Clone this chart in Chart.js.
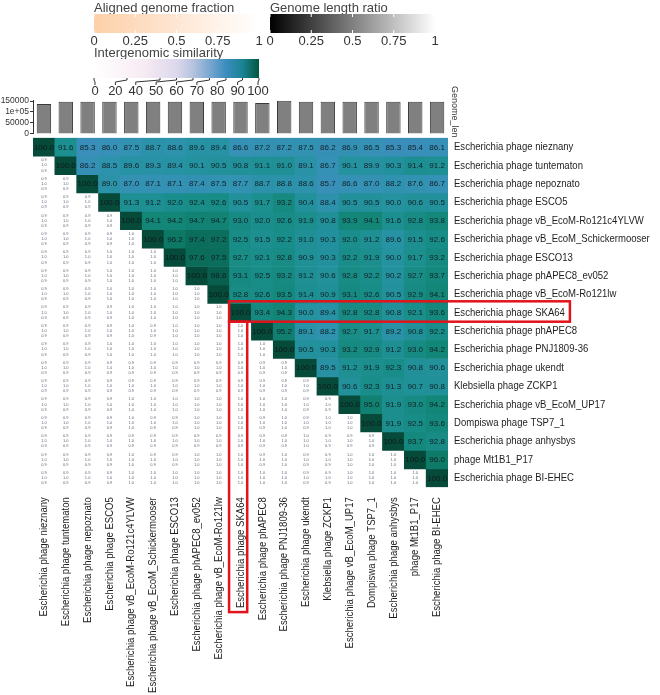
<!DOCTYPE html>
<html>
<head>
<meta charset="utf-8">
<script src="https://cdn.jsdelivr.net/npm/chart.js@4.4.1/dist/chart.umd.min.js"></script>
<style>
  html, body { margin: 0; padding: 0; background: #fff; }
  #wrap { position: relative; width: 660px; height: 695px; overflow: hidden; }
  #heat, #lenChart, #legend { position: absolute; left: 0; top: 0; }
</style>
</head>
<body>
<div id="wrap">
  <canvas id="heat" width="660" height="695"></canvas>
  <canvas id="lenChart" width="660" height="140"></canvas>
  <svg id="legend" width="660" height="140" font-family="'Liberation Sans', Arial, sans-serif"></svg>
</div>
<script>
const phages = [
    "Escherichia phage nieznany", "Escherichia phage tuntematon", "Escherichia phage nepoznato",
    "Escherichia phage ESCO5", "Escherichia phage vB_EcoM-Ro121c4YLVW", "Escherichia phage vB_EcoM_Schickermooser",
    "Escherichia phage ESCO13", "Escherichia phage phAPEC8_ev052", "Escherichia phage vB_EcoM-Ro121lw",
    "Escherichia phage SKA64", "Escherichia phage phAPEC8", "Escherichia phage PNJ1809-36",
    "Escherichia phage ukendt", "Klebsiella phage ZCKP1", "Escherichia phage vB_EcoM_UP17",
    "Dompiswa phage TSP7_1", "Escherichia phage anhysbys", "phage Mt1B1_P17", "Escherichia phage BI-EHEC"
];
const highlighted = "Escherichia phage SKA64";

// genome length (bp)
const genomeLen = [136500, 147000, 147000, 147000, 147000, 147000, 147000, 147000, 147000, 147000,
                   141000, 151500, 147000, 147000, 147000, 147000, 147000, 147000, 147000];
const lenTicks = [0, 50000, 100000, 150000];
const lenTickLabels = ["0", "50000", "1e+05", "150000"];

// intergenomic similarity, upper triangle, each row starts at the diagonal
const simRows = [
    [100.0, 91.6, 85.3, 86.0, 87.5, 88.7, 88.6, 89.6, 89.4, 86.6, 87.2, 87.2, 87.5, 86.2, 86.9, 86.5, 85.3, 85.4, 86.1],
    [100.0, 86.2, 88.5, 89.6, 89.3, 89.4, 90.1, 90.5, 90.8, 91.1, 91.0, 89.1, 86.7, 90.1, 89.9, 90.3, 91.4, 91.2],
    [100.0, 89.0, 87.0, 87.1, 87.1, 87.4, 87.5, 87.7, 88.7, 88.8, 88.6, 85.7, 86.6, 87.0, 88.2, 87.6, 86.7],
    [100.0, 91.3, 91.2, 92.0, 92.4, 92.6, 90.5, 91.7, 93.2, 90.4, 88.4, 90.5, 90.5, 90.0, 90.6, 90.5],
    [100.0, 94.1, 94.2, 94.7, 94.7, 93.0, 92.0, 92.6, 91.9, 90.8, 93.9, 94.1, 91.6, 92.8, 93.8],
    [100.0, 96.2, 97.4, 97.2, 92.5, 91.5, 92.2, 91.0, 90.3, 92.0, 91.2, 89.6, 91.5, 92.6],
    [100.0, 97.6, 97.5, 92.7, 92.1, 92.8, 90.9, 90.3, 92.2, 91.9, 90.0, 91.7, 93.2],
    [100.0, 98.6, 93.1, 92.5, 93.2, 91.2, 90.6, 92.8, 92.2, 90.2, 92.7, 93.7],
    [100.0, 92.8, 92.6, 93.5, 91.4, 90.9, 93.1, 92.6, 90.5, 92.9, 94.1],
    [100.0, 93.4, 94.3, 90.0, 89.4, 92.8, 92.8, 90.8, 92.1, 93.6],
    [100.0, 95.2, 89.1, 88.2, 92.7, 91.7, 89.2, 90.8, 92.2],
    [100.0, 90.5, 90.3, 93.2, 92.9, 91.2, 93.0, 94.2],
    [100.0, 89.5, 91.2, 91.9, 92.3, 90.8, 90.6],
    [100.0, 90.6, 92.3, 91.3, 90.7, 90.8],
    [100.0, 95.0, 91.9, 93.0, 94.2],
    [100.0, 91.9, 92.5, 93.6],
    [100.0, 93.7, 92.8],
    [100.0, 96.0],
    [100.0]
];

// lower triangle, aligned genome fraction per cell (9 = 0.9, 1 = 1.0), rows 2..19
const lowerFrac = [
    "9", "99", "999", "9999", "99991", "999111", "9991111", "99911111", "999911111",
    "9999191111", "99911111111", "999999999999", "9999999999999", "99991111111199",
    "999919911191911", "9999999999991999", "99991991119199111", "999911111111991111"
];
const lenRatioText = "1.0";

const afTicks = [0, 0.25, 0.5, 0.75, 1];
const afTickLabels = ["0", "0.25", "0.5", "0.75", "1"];
const simTicks = [0, 20, 40, 50, 60, 70, 80, 90, 100];

const labelFont = "'Liberation Sans', Arial, sans-serif";
const labelSize = 11.5;
const labelSqueeze = 0.83;
const numFont = "'Liberation Sans', Arial, sans-serif";

const simStops = [
    [84, [62, 142, 190]], [88, [48, 146, 176]], [90, [37, 146, 160]], [92, [26, 142, 140]],
    [94, [19, 135, 121]], [96, [14, 122, 104]], [98, [10, 104, 87]], [100, [6, 74, 58]]
];

function simColor(v) {
    if (v <= simStops[0][0]) return `rgb(${simStops[0][1].join(",")})`;
    for (let i = 1; i < simStops.length; i++) {
        const [v1, c1] = simStops[i];
        const [v0, c0] = simStops[i - 1];
        if (v <= v1) {
            const t = (v - v0) / (v1 - v0);
            const c = c0.map((a, k) => Math.round(a + (c1[k] - a) * t));
            return `rgb(${c.join(",")})`;
        }
    }
    return `rgb(${simStops[simStops.length - 1][1].join(",")})`;
}

function simAt(r, c) {
    return simRows[r][c - r];
}

function cellColor(r, c) {
    if (c < r) return "#ffffff";
    return simColor(simAt(r, c));
}

const cellText = {
    id: "cellText",
    afterDatasetsDraw(chart) {
        const ctx = chart.ctx;
        ctx.save();
        ctx.textAlign = "center";
        ctx.textBaseline = "middle";
        chart.data.datasets.forEach((ds, r) => {
            const meta = chart.getDatasetMeta(r);
            meta.data.forEach((bar, c) => {
                const p = bar.getProps(["x", "y", "base"], true);
                const cy = (p.y + p.base) / 2;
                const h = Math.abs(p.base - p.y);
                if (c >= r) {
                    ctx.font = `8px ${numFont}`;
                    ctx.fillStyle = "rgba(15,20,25,0.9)";
                    ctx.fillText(simAt(r, c).toFixed(1), p.x, cy + 0.5);
                } else {
                    const code = lowerFrac[r - 1][c];
                    const f = code === "1" ? "1.0" : "0.9";
                    ctx.font = `4px ${numFont}`;
                    ctx.fillStyle = "rgba(70,75,95,0.85)";
                    ctx.fillText(f, p.x, cy - h * 0.28);
                    ctx.fillText(lenRatioText, p.x, cy);
                    ctx.fillText(f, p.x, cy + h * 0.28);
                }
            });
        });
        ctx.restore();
    }
};

// row / column names, drawn along the scales with a narrow (condensed) face
const axisLabels = {
    id: "axisLabels",
    afterDraw(chart) {
        const ctx = chart.ctx;
        const xs = chart.scales.x, ys = chart.scales.y;
        ctx.save();
        ctx.font = `${labelSize}px ${labelFont}`;
        ctx.fillStyle = "#1e1e1e";
        ctx.textBaseline = "middle";
        phages.forEach((name, i) => {
            ctx.save();
            ctx.translate(ys.left + 6, ys.getPixelForValue(i + 0.5));
            ctx.scale(labelSqueeze, 1);
            ctx.textAlign = "left";
            ctx.fillText(name, 0, 0);
            ctx.restore();

            ctx.save();
            ctx.translate(xs.getPixelForValue(i), xs.top + 10);
            ctx.rotate(-Math.PI / 2);
            ctx.scale(labelSqueeze, 1);
            ctx.textAlign = "right";
            ctx.fillText(name, 0, 0);
            ctx.restore();
        });
        ctx.restore();
    }
};

const redBoxes = {
    id: "redBoxes",
    afterDraw(chart) {
        const ctx = chart.ctx;
        const xs = chart.scales.x, ys = chart.scales.y;
        const k = phages.indexOf(highlighted);
        const colW = xs.width / phages.length;
        const left = xs.getPixelForValue(k) - colW / 2 - 0.5;
        const right = left + colW * 0.83;
        const top = ys.getPixelForValue(k) - 2;
        const bottom = ys.getPixelForValue(k + 1);
        ctx.save();
        ctx.font = `${labelSize}px ${labelFont}`;
        const w = ctx.measureText(highlighted).width * labelSqueeze;
        ctx.strokeStyle = "#e3131b";
        ctx.lineWidth = 2.5;
        ctx.strokeRect(left, top, ys.left + 6 + w + 5 - left, bottom - top);
        ctx.strokeRect(left, bottom, right - left, xs.top + 10 + w + 4 - bottom);
        ctx.restore();
    }
};

new Chart(document.getElementById("heat"), {
    type: "bar",
    data: {
        labels: phages,
        datasets: phages.map((name, r) => ({
            label: name,
            data: phages.map(() => 1),
            backgroundColor: ctx => cellColor(r, ctx.dataIndex),
            borderWidth: 0,
            barPercentage: 1,
            categoryPercentage: 1
        }))
    },
    options: {
        responsive: false,
        animation: false,
        layout: { padding: { left: 33, top: 137.8, right: 0, bottom: 0 } },
        plugins: { legend: { display: false }, tooltip: { enabled: false } },
        scales: {
            x: {
                stacked: true,
                grid: { display: false, drawTicks: false },
                border: { display: false },
                ticks: { display: false },
                afterFit: s => { s.height = 207.8; }
            },
            y: {
                stacked: true,
                position: "right",
                reverse: true,
                min: 0,
                max: phages.length,
                grid: { display: false, drawTicks: false },
                border: { display: false },
                ticks: { display: false },
                afterFit: s => { s.width = 212; }
            }
        }
    },
    plugins: [cellText, axisLabels, redBoxes]
});

new Chart(document.getElementById("lenChart"), {
    type: "bar",
    data: {
        labels: phages,
        datasets: [{
            data: genomeLen,
            backgroundColor: "#808080",
            borderColor: "#3a3a3a",
            borderWidth: 1,
            barPercentage: 0.66,
            categoryPercentage: 1
        }]
    },
    options: {
        responsive: false,
        animation: false,
        layout: { padding: { left: 0, right: 212, top: 100.6, bottom: 5.5 } },
        plugins: { legend: { display: false }, tooltip: { enabled: false } },
        scales: {
            x: { display: false },
            y: {
                min: 0,
                max: 152000,
                afterBuildTicks: s => { s.ticks = lenTicks.map(v => ({ value: v })); },
                ticks: {
                    autoSkip: false,
                    callback: (v, i) => lenTickLabels[i],
                    color: "#333", padding: 1,
                    font: { family: numFont, size: 8.5 }
                },
                grid: { drawOnChartArea: false, tickLength: 3, color: "#333" },
                border: { color: "#333" },
                afterFit: s => { s.width = 33; }
            }
        }
    }
});

// legends
(function drawLegends() {
    const svg = document.getElementById("legend");
    const NS = "http://www.w3.org/2000/svg";
    const el = (tag, attrs, text) => {
        const e = document.createElementNS(NS, tag);
        for (const k in attrs) e.setAttribute(k, attrs[k]);
        if (text !== undefined) e.textContent = text;
        svg.appendChild(e);
        return e;
    };
    const defs = el("defs", {});
    const grad = (id, stops) => {
        const g = document.createElementNS(NS, "linearGradient");
        g.setAttribute("id", id);
        stops.forEach(([o, c]) => {
            const s = document.createElementNS(NS, "stop");
            s.setAttribute("offset", o);
            s.setAttribute("stop-color", c);
            g.appendChild(s);
        });
        defs.appendChild(g);
    };
    grad("gAf", [[0, "#fcd0a8"], [0.5, "#fee6d3"], [1, "#ffffff"]]);
    grad("gLr", [[0, "#000000"], [1, "#ffffff"]]);
    grad("gSim", [[0, "#ffffff"], [0.3, "#f7ebf3"], [0.5, "#dcd8ec"], [0.6, "#b6c3df"],
                  [0.7, "#7aa7d0"], [0.8, "#3b8dbd"], [0.9, "#1b8394"], [1, "#00573f"]]);

    const barW = 165;
    const legendBar = (x0, y0, title, gid) => {
        el("text", { x: x0, y: y0 - 2, "font-size": 13, fill: "#444" }, title);
        el("rect", { x: x0, y: y0, width: barW, height: 19, fill: `url(#${gid})` });
        afTicks.forEach((t, i) => {
            const x = x0 + t * barW;
            el("line", { x1: x, x2: x, y1: y0, y2: y0 + 3, stroke: "#fff", "stroke-width": 1 });
            el("line", { x1: x, x2: x, y1: y0 + 16, y2: y0 + 19, stroke: "#fff", "stroke-width": 1 });
            el("text", { x: x, y: y0 + 31, "font-size": 13, fill: "#333", "text-anchor": "middle" }, afTickLabels[i]);
        });
    };
    legendBar(94, 14, "Aligned genome fraction", "gAf");
    legendBar(270, 14, "Genome length ratio", "gLr");

    const sx = 94, sy = 59;
    el("text", { x: sx, y: sy - 2, "font-size": 13, fill: "#444" }, "Intergenomic similarity");
    el("rect", { x: sx, y: sy, width: barW, height: 19, fill: "url(#gSim)" });
    simTicks.forEach((t, i) => {
        const bx = sx + t / 100 * barW;
        const lx = sx + 1 + i * (barW - 2) / (simTicks.length - 1);
        el("polyline", {
            points: `${bx},${sy + 19} ${bx},${sy + 21} ${lx},${sy + 23} ${lx},${sy + 26}`,
            fill: "none", stroke: "#333", "stroke-width": 1
        });
        el("text", { x: lx, y: sy + 36, "font-size": 13, fill: "#333", "text-anchor": "middle" }, String(t));
    });

    el("text", { x: 0, y: 0, "font-size": 9, fill: "#333",
                 transform: "translate(452,86) rotate(90)" }, "Genome_len");
})();
</script>
</body>
</html>
